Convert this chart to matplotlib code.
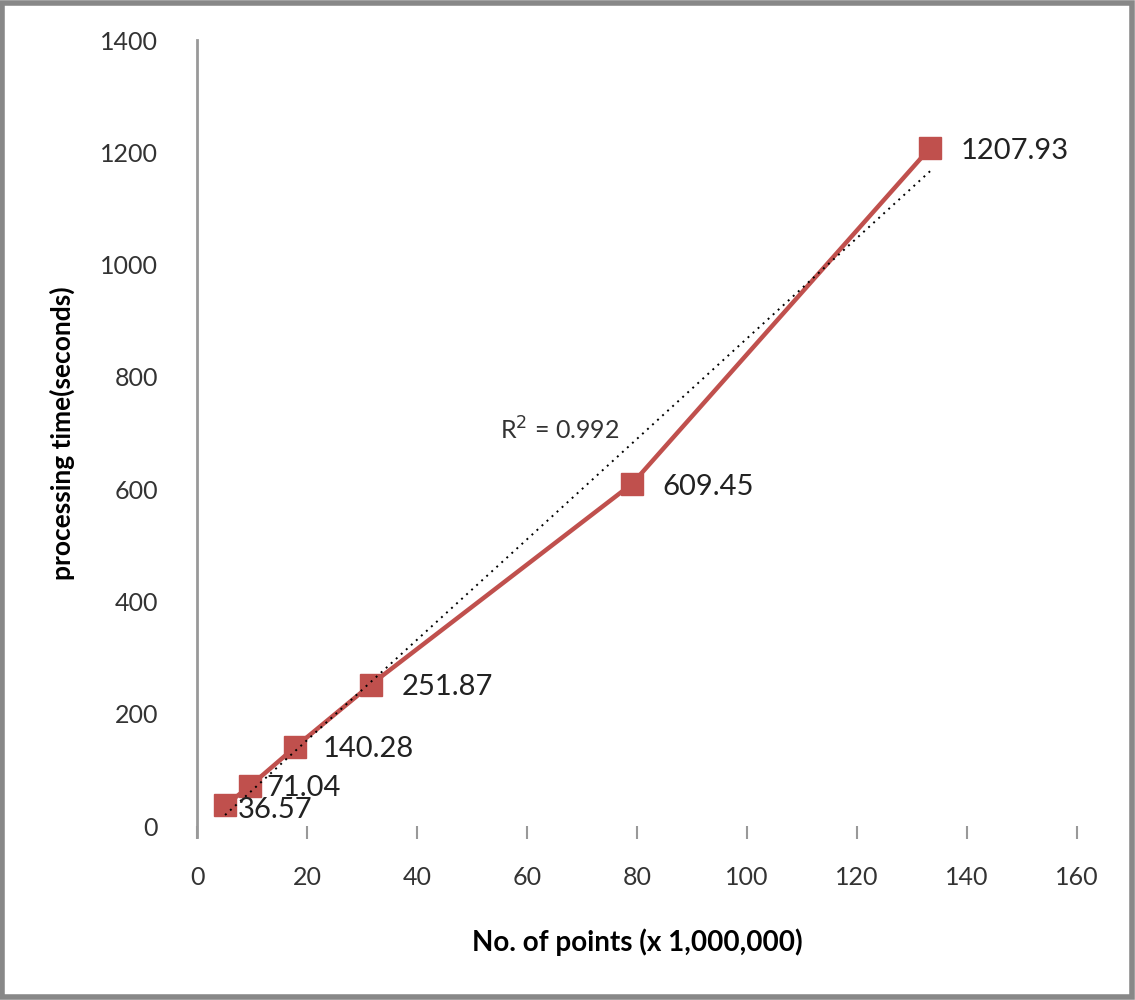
import numpy as np
import matplotlib.pyplot as plt
from matplotlib.patches import Rectangle

# data
points = [5.1, 9.6, 17.8, 31.6, 79.1, 133.3]          # x 1,000,000
proc_time = [36.57, 71.04, 140.28, 251.87, 609.45, 1207.93]
point_labels = ["36.57", "71.04", "140.28", "251.87", "609.45", "1207.93"]
r2_text = "R$^2$ = 0.992"

x_ticks = [0, 20, 40, 60, 80, 100, 120, 140, 160]
y_ticks = [0, 200, 400, 600, 800, 1000, 1200, 1400]

plt.rcParams['font.family'] = ['Lato', 'DejaVu Sans']

fig = plt.figure(figsize=(11.35, 10), dpi=100)
ax = fig.add_axes([0.1736, 0.174, 0.7753, 0.786])

red = "#C0504D"

# linear trend line
slope, intercept = np.polyfit(points, proc_time, 1)
tx = np.array([points[0], points[-1]])
ax.plot(tx, slope * tx + intercept, color="black", linestyle=(0, (1, 2.5)),
        linewidth=1.4, zorder=4)

ax.plot(points, proc_time, color=red, linewidth=3.2, marker="s",
        markersize=16, markerfacecolor=red, markeredgecolor=red, zorder=3)

offsets = [(9, -3), (12, -1), (20, -1), (22, -2), (22, -2), (22, -2)]
for x, y, lab, off in zip(points, proc_time, point_labels, offsets):
    ax.annotate(lab, (x, y), xytext=off, textcoords="offset points",
                fontsize=21, color="#222222", va="center", ha="left", zorder=5)

ax.text(55, 705, r2_text, fontsize=18, color="#333333", ha="left", va="center")

ax.set_xlim(0, 160)
ax.set_ylim(0, 1400)
ax.set_xticks(x_ticks)
ax.set_yticks(y_ticks)
ax.tick_params(axis="x", length=9, width=1.5, color="#999999", direction="out",
               labelsize=18, pad=20, labelcolor="#333333")
ax.tick_params(axis="y", length=0, labelsize=18, pad=28, labelcolor="#333333")

for side in ["top", "right", "bottom"]:
    ax.spines[side].set_visible(False)
ax.spines["left"].set_color("#999999")
ax.spines["left"].set_linewidth(2)
ax.spines["left"].set_bounds(-20, 1400)
ax.spines["left"].set_clip_on(False)

ax.set_xlabel("No. of points (x 1,000,000)", fontsize=20, fontweight="bold",
              labelpad=28)
ax.set_ylabel("processing time(seconds)", fontsize=19, fontweight="bold",
              labelpad=18)

# grey frame around the whole chart
fig.patches.append(Rectangle((0.002, 0.003), 0.995, 0.994, transform=fig.transFigure,
                             fill=False, edgecolor="#888888", linewidth=4))

fig.savefig("out.png", dpi=100)
